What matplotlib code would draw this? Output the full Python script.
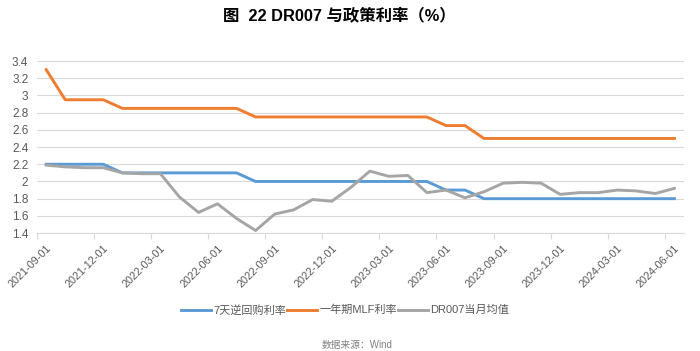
import matplotlib
matplotlib.use("Agg")
import matplotlib.pyplot as plt
from matplotlib.ticker import FuncFormatter, FixedLocator
import pandas as pd

plt.rcParams['font.family'] = ['Liberation Sans', 'Noto Sans CJK SC', 'DejaVu Sans']

dates = pd.date_range("2021-09-01", "2024-06-01", freq="MS").strftime("%Y-%m-%d").tolist()

reverse_repo_7d = [2.2, 2.2, 2.2, 2.2, 2.1, 2.1, 2.1, 2.1, 2.1, 2.1, 2.1,
                   2.0, 2.0, 2.0, 2.0, 2.0, 2.0, 2.0, 2.0, 2.0, 2.0,
                   1.9, 1.9, 1.8, 1.8, 1.8, 1.8, 1.8, 1.8, 1.8, 1.8, 1.8, 1.8, 1.8]
mlf_1y = [3.3, 2.95, 2.95, 2.95, 2.85, 2.85, 2.85, 2.85, 2.85, 2.85, 2.85,
          2.75, 2.75, 2.75, 2.75, 2.75, 2.75, 2.75, 2.75, 2.75, 2.75,
          2.65, 2.65, 2.5, 2.5, 2.5, 2.5, 2.5, 2.5, 2.5, 2.5, 2.5, 2.5, 2.5]
dr007_avg = [2.19, 2.17, 2.16, 2.16, 2.10, 2.09, 2.09, 1.82, 1.64, 1.74, 1.57,
             1.43, 1.62, 1.67, 1.79, 1.77, 1.93, 2.12, 2.06, 2.07, 1.87,
             1.90, 1.81, 1.88, 1.98, 1.99, 1.98, 1.85, 1.87, 1.87, 1.90, 1.89, 1.86, 1.92]

series_names = ["7天逆回购利率", "一年期MLF利率", "DR007当月均值"]
colors = ["#5B9BD5", "#ED7D31", "#A5A5A5"]

fig = plt.figure(figsize=(7.0, 3.51), dpi=100)
ax = fig.add_axes([0.0524, 0.336, 0.9246, 0.49])

x = list(range(len(dates)))
for vals, name, c in zip([reverse_repo_7d, mlf_1y, dr007_avg], series_names, colors):
    ax.plot(x, vals, color=c, lw=2.1, label=name, solid_joinstyle='round')

ax.set_xlim(-0.5, len(dates) - 0.5)
ax.set_ylim(1.4, 3.4)
ax.set_yticks([1.4 + 0.2 * i for i in range(11)])
ax.yaxis.set_major_formatter(FuncFormatter(lambda v, p: f"{round(v, 1):g}"))
ax.grid(axis='y', color='#D9D9D9', lw=0.8)
ax.set_axisbelow(True)

label_idx = list(range(0, len(dates), 3))
ax.set_xticks(label_idx)
ax.set_xticklabels([dates[i] for i in label_idx], rotation=45, ha='right',
                   rotation_mode='anchor', fontsize=7.8, color='#595959')
ax.xaxis.set_minor_locator(FixedLocator([i - 0.5 for i in label_idx]))
ax.tick_params(axis='x', which='major', length=0, pad=7)
ax.tick_params(axis='x', which='minor', length=4, color='#D9D9D9', width=0.8)
ax.tick_params(axis='y', length=0, labelsize=8.5, labelcolor='#595959', pad=6)

for s in ['top', 'right', 'left']:
    ax.spines[s].set_visible(False)
ax.spines['bottom'].set_color('#D9D9D9')
ax.spines['bottom'].set_linewidth(0.8)

fig.legend(loc='center', bbox_to_anchor=(0.493, 0.117), ncol=3, frameon=False,
           fontsize=8.0, handlelength=2.7, handletextpad=0.15, columnspacing=0.15,
           labelcolor='#595959')

fig.text(0.485, 0.955, "图  22 DR007 与政策利率（%）", ha='center', va='center',
         fontsize=11.8, fontweight='bold', color='black')
fig.text(0.51, 0.018, "数据来源：Wind", ha='center', va='center', fontsize=7, color='#808080')

fig.savefig("out.png", dpi=100)
